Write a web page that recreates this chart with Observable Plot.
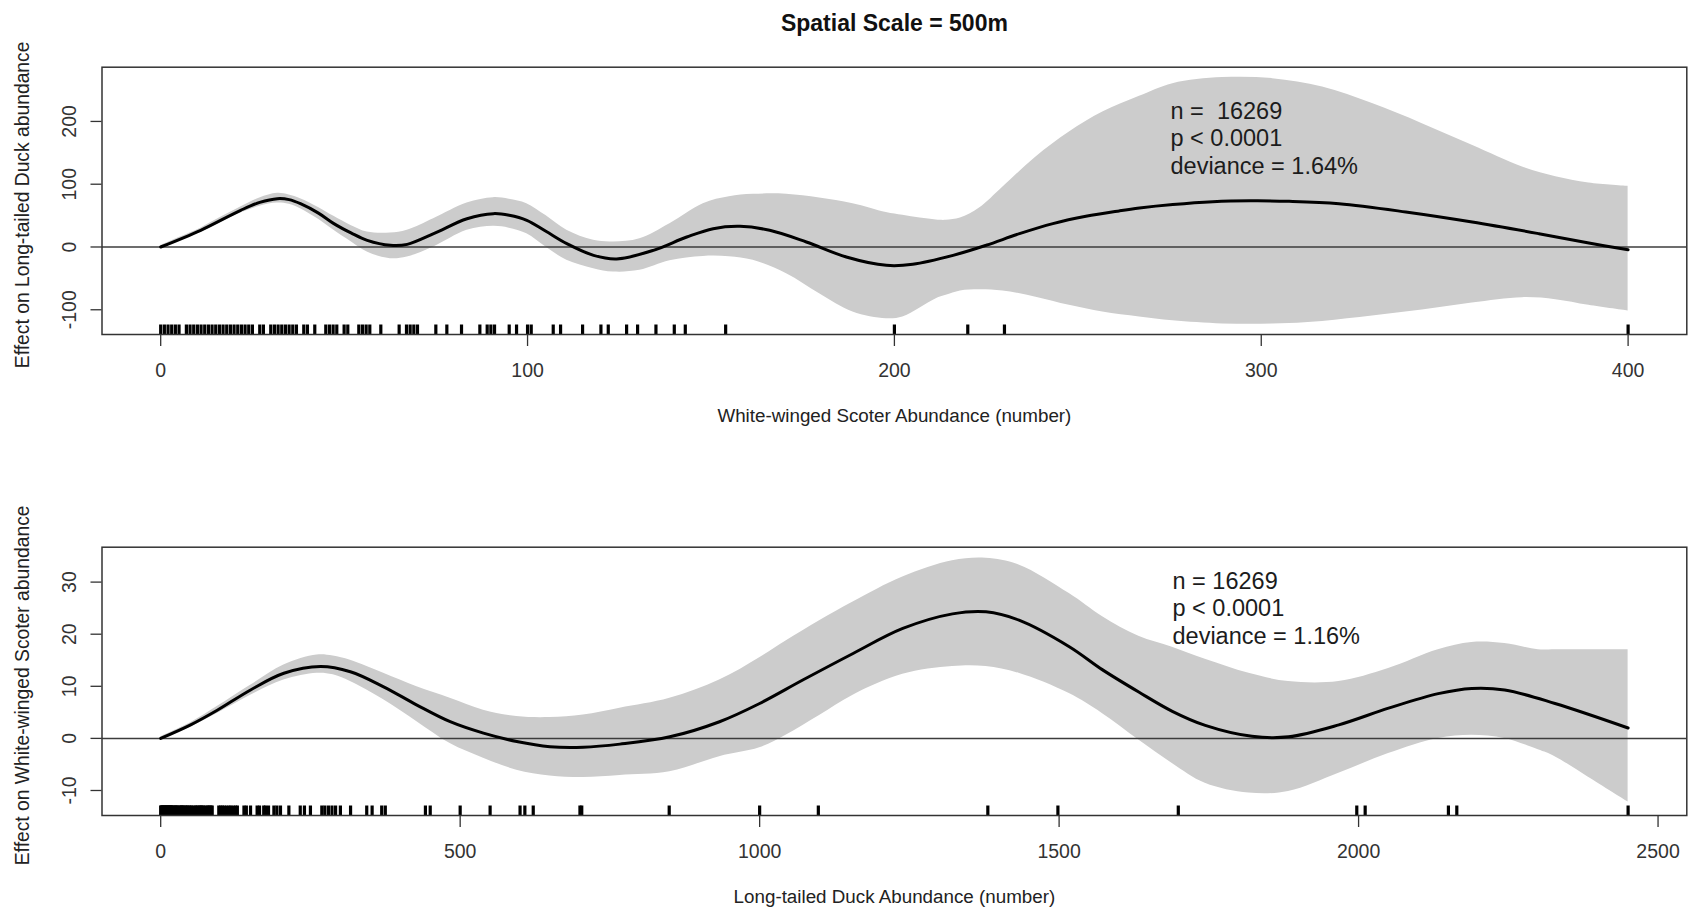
<!DOCTYPE html>
<html>
<head>
<meta charset="utf-8">
<script src="https://cdn.jsdelivr.net/npm/d3@7"></script>
<script src="https://cdn.jsdelivr.net/npm/@observablehq/plot@0.6"></script>
<style>
  html, body { margin: 0; padding: 0; background: #fff; }
  #chart { position: relative; width: 1692px; height: 910px; }
  #chart svg { display: block; }
  .ann text { white-space: pre; }
</style>
</head>
<body>
<div id="chart"></div>
<script>
// ---- Panel 1: effect of White-winged Scoter abundance on Long-tailed Duck abundance ----
const fitTopX = [0, 10.9, 21.8, 27, 31.8, 35, 38.1, 43, 47.2, 52, 56.3, 62.6, 67.2, 74.4, 83.5, 90.7, 95, 99.8, 105, 110.7, 118, 124.3, 134.3, 143.4, 150.6, 157.9, 166, 176, 186.9, 197.8, 205, 216, 225, 234.1, 243.2, 252.2, 261.3, 266.8, 275.9, 286.8, 297, 307.6, 321.2, 339.4, 357.5, 375.7, 389.3, 400];
const fitTopY = [0, 26.6, 58.4, 71, 77, 75.5, 69, 54, 37.2, 22, 10.6, 2.7, 4.2, 21.2, 45, 53.1, 50.5, 42.5, 25, 5.3, -13.3, -19, -5.3, 15.9, 29.2, 32.9, 26.6, 8, -15.9, -29.2, -27.6, -13.3, 2.7, 21.2, 37.2, 48.9, 57.5, 62, 67.5, 72, 73.5, 72.8, 69, 55.8, 39.8, 21.2, 6.4, -4.5];

const bandTopX  = [0, 5, 10.9, 16, 21.8, 27, 31.8, 35, 38.1, 43, 47.2, 52, 56.3, 62.6, 67.2, 74.4, 83.5, 90.7, 95, 99.8, 105, 110.7, 118, 123.4, 130.6, 138.8, 147.9, 155, 161.5, 170.6, 179.6, 188.7, 197.8, 202.3, 207, 211.4, 214.1, 218, 223.2, 229.6, 238.6, 247.7, 256.8, 266.8, 275.9, 289.5, 303.1, 316.7, 330.3, 343.9, 357.5, 371.2, 380.3, 389.3, 400];
const bandTopLo = [-2, 9, 23.4, 38, 54, 65, 70, 68, 61, 44, 26.6, 8, -8, -18.6, -15.9, 0, 26.6, 32.9, 30, 21.2, 0, -21.2, -34.5, -39.8, -37.2, -22, -15, -15.5, -21.2, -42.5, -74.4, -103.6, -114.2, -111.5, -97, -82.3, -77, -70, -68, -70, -80, -92.9, -103.6, -111.5, -117.5, -122.5, -122.8, -118.5, -110, -100.5, -89.2, -80.7, -83.9, -92.9, -102];
const bandTopHi = [2, 15, 30, 46, 63.7, 78, 85.5, 83, 77, 63, 48.9, 34, 23.9, 22.3, 26.6, 45, 70, 78.6, 76, 69, 50, 26.6, 10.6, 8, 13.3, 37.2, 69, 80, 83.9, 84, 78, 69, 55, 50.5, 46, 43, 42.5, 46, 62, 95.6, 143.4, 183.2, 215, 240, 260.2, 269.8, 268.2, 254.9, 228.4, 196.5, 162, 127.5, 112, 102, 96.6];

const rugTop = [0, 1, 2, 3, 4, 5, 7, 8, 9, 10, 11, 12, 13, 14, 15, 16, 17, 18, 19, 20, 21, 22, 23, 24, 25, 27, 28, 30, 31, 32, 33, 34, 35, 36, 37, 39, 40, 42, 45, 46, 47, 48, 50, 51, 54, 55, 56, 57, 60, 65, 67, 68, 69, 70, 75, 78, 82, 87, 89, 90, 91, 95, 97, 100, 101, 107, 109, 115, 120, 122, 127, 130, 135, 140, 143, 154, 200, 220, 230, 400];

const xTicksTop = [0, 100, 200, 300, 400];
const yTicksTop = [-100, 0, 100, 200];
const statsTop = ["n =  16269", "p < 0.0001", "deviance = 1.64%"];

// ---- Panel 2: effect of Long-tailed Duck abundance on White-winged Scoter abundance ----
const fitBotX = [0, 50, 94.4, 150, 205.6, 266.7, 316.7, 372.2, 427.8, 483.3, 538.9, 594.4, 650, 705.6, 766.7, 850, 933, 1000, 1072, 1156, 1239, 1322, 1378, 1433, 1517, 1572, 1633, 1689, 1744, 1822, 1883, 1967, 2050, 2133, 2189, 2244, 2328, 2450];
const fitBotY = [0, 2.6, 5.4, 9.3, 12.5, 13.8, 12.8, 9.9, 6.4, 3.2, 1.0, -0.6, -1.6, -1.7, -1.1, 0.3, 3.2, 6.7, 11.2, 16.3, 21.1, 23.9, 24.3, 22.7, 17.6, 13.2, 8.9, 5.2, 2.5, 0.4, 0.3, 2.6, 5.8, 8.6, 9.6, 9.3, 6.7, 2.0];

const bandBotX  = [0, 50, 94.4, 150, 205.6, 261, 288, 316.7, 372.2, 427.8, 483.3, 538.9, 594.4, 650, 705.6, 766.7, 850, 933, 1000, 1044, 1100, 1156, 1239, 1322, 1378, 1433, 1517, 1572, 1633, 1689, 1744, 1817, 1883, 1967, 2050, 2133, 2189, 2244, 2300, 2328, 2383, 2450];
const bandBotLo = [-0.3, 2.2, 4.8, 8.3, 11.2, 12.5, 12.2, 10.9, 7.4, 3.2, -1.0, -3.8, -6.1, -7.2, -7.5, -7.1, -6.4, -3.5, -1.8, 0.6, 4.4, 8.3, 12.3, 13.8, 13.8, 12.5, 8.6, 4.8, -0.3, -4.8, -8.6, -10.5, -10.2, -6.7, -2.9, 0, 0.6, 0, -2.2, -3.5, -7.4, -12.2];
const bandBotHi = [0.3, 3.0, 6.1, 10.2, 14.1, 16.0, 15.8, 15.0, 12.5, 9.9, 7.7, 5.4, 4.2, 4.0, 4.5, 5.8, 7.7, 11.2, 15.5, 18.7, 22.6, 26.2, 31.0, 34.1, 34.6, 33.3, 27.8, 23.4, 19.6, 17.5, 15.2, 12.5, 10.9, 10.9, 13.4, 17.0, 18.4, 18.2, 17.0, 17.0, 17.0, 17.0];

const rugBot = [0, 1, 2, 3, 4, 5, 6, 7, 8, 9, 10, 11, 12, 13, 14, 15, 16, 17, 18, 19, 20, 22, 24, 25, 26, 28, 30, 32, 34, 35, 36, 38, 40, 42, 44, 45, 48, 50, 52, 55, 58, 60, 62, 65, 66, 68, 70, 72, 75, 78, 80, 82, 84, 86, 97, 100, 103, 106, 110, 114, 117, 121, 125, 128, 139, 143, 150, 161, 165, 172, 175, 180, 189, 194, 200, 214, 233, 240, 250, 269, 274, 280, 286, 292, 300, 317, 344, 353, 369, 375, 442, 450, 500, 550, 600, 608, 622, 700, 703, 849, 1000, 1098, 1381, 1498, 1699, 1997, 2011, 2150, 2164, 2450];

const xTicksBot = [0, 500, 1000, 1500, 2000, 2500];
const yTicksBot = [-10, 0, 10, 20, 30];
const statsBot = ["n = 16269", "p < 0.0001", "deviance = 1.16%"];

const zip = (xs, ...cols) => xs.map((x, i) => ({x, a: cols[0]?.[i], b: cols[1]?.[i]}));

const W = 1692, H = 455;
const FONT = "'Liberation Sans', Arial, Helvetica, sans-serif";

function panel({title, fitX, fitY, bandX, bandLo, bandHi, rug, xDomain, yDomain, xTicks, yTicks,
                xLabel, yLabel, stats, marginTop, marginBottom, xLabelDy, statsDx, statsDy}) {
  const marginLeft = 101.5, marginRight = 5.7;
  const frameH = H - marginTop - marginBottom;
  const rugLen = 9.5;
  const fit = zip(fitX, fitY);
  const band = zip(bandX, bandLo, bandHi);
  const marks = [
    // pointwise confidence band
    Plot.areaY(band, {x: "x", y1: "a", y2: "b", fill: "#cccccc", curve: "catmull-rom"}),
    // reference line at zero effect
    Plot.ruleY([0], {stroke: "#3c3c3c", strokeWidth: 1.5}),
    // smooth term
    Plot.lineY(fit, {x: "x", y: "a", stroke: "#000", strokeWidth: 3, curve: "catmull-rom"}),
    // rug of observed covariate values
    Plot.ruleX(rug, {x: d => d, stroke: "#000", strokeWidth: 3.2, insetTop: frameH - rugLen}),
    Plot.frame({stroke: "#333", strokeWidth: 1.5}),
    Plot.axisX({ticks: xTicks, tickSize: 12, tickPadding: 17, fontSize: 19.5, color: "#333",
                strokeWidth: 1.3, label: null, tickFormat: d => String(d)}),
    Plot.axisY({ticks: yTicks, tickSize: 11, tickPadding: 15.5, tickRotate: -90, fontSize: 19.5,
                color: "#333", strokeWidth: 1.3, label: null, tickFormat: d => d < 0 ? "-" + Math.abs(d) : String(d)}),
    Plot.text([xLabel], {frameAnchor: "bottom", dy: xLabelDy, lineAnchor: "bottom", fontSize: 18.8, fill: "#222"}),
    Plot.text([yLabel], {frameAnchor: "left", rotate: -90, dx: -73.2, dy: 4, lineAnchor: "bottom",
                         textAnchor: "middle", fontSize: 19.3, fill: "#222"}),
    // model summary in the upper right of the panel
    Plot.text([stats.join("\n")], {frameAnchor: "top-left", textAnchor: "start", lineAnchor: "bottom",
                                   dx: statsDx, dy: statsDy, lineHeight: 1.17, fontSize: 23.5, fill: "#1c1c1c",
                                   className: "ann"})
  ];
  if (title) {
    marks.push(Plot.text([title], {frameAnchor: "top", dy: 30.5 - marginTop, lineAnchor: "bottom",
                                   fontSize: 23, fontWeight: "bold", fill: "#111"}));
  }
  return Plot.plot({
    width: W, height: H,
    marginTop, marginBottom, marginLeft, marginRight,
    style: {fontFamily: FONT, background: "#fff", overflow: "visible"},
    x: {domain: xDomain},
    y: {domain: yDomain},
    marks
  });
}

const chart = document.getElementById("chart");
chart.appendChild(panel({
  title: "Spatial Scale = 500m",
  fitX: fitTopX, fitY: fitTopY, bandX: bandTopX, bandLo: bandTopLo, bandHi: bandTopHi, rug: rugTop,
  xDomain: [-16, 416], yDomain: [-139.4, 286.4], xTicks: xTicksTop, yTicks: yTicksTop,
  xLabel: "White-winged Scoter Abundance (number)",
  yLabel: "Effect on Long-tailed Duck abundance",
  stats: statsTop, marginTop: 66.7, marginBottom: 121, xLabelDy: 87.5,
  statsDx: 1170 - 101.5, statsDy: 173.3 - 66.7
}));
chart.appendChild(panel({
  title: null,
  fitX: fitBotX, fitY: fitBotY, bandX: bandBotX, bandLo: bandBotLo, bandHi: bandBotHi, rug: rugBot,
  xDomain: [-98, 2548], yDomain: [-14.8, 36.7], xTicks: xTicksBot, yTicks: yTicksBot,
  xLabel: "Long-tailed Duck Abundance (number)",
  yLabel: "Effect on White-winged Scoter abundance",
  stats: statsBot, marginTop: 91.7, marginBottom: 95, xLabelDy: 87,
  statsDx: 1172 - 101.5, statsDy: 643.3 - 546.7
}));
</script>
</body>
</html>
